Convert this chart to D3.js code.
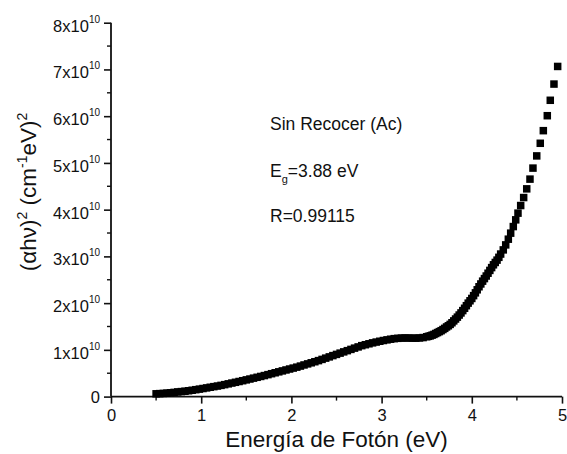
<!DOCTYPE html>
<html>
<head>
<meta charset="utf-8">
<script src="https://cdn.jsdelivr.net/npm/d3@7"></script>
<style>
  html, body { margin: 0; padding: 0; background: #fff; }
  svg { display: block; }
  text { font-family: "Liberation Sans", Arial, sans-serif; fill: #111; }
</style>
</head>
<body>
<svg id="chart" width="567" height="454"></svg>
<script>
// Photon energy (eV) and (alpha h nu)^2 in units of 1e10 (cm^-1 eV)^2
const energy = [
  0.50, 0.54, 0.58, 0.62, 0.66, 0.70, 0.74, 0.78, 0.82, 0.86,
  0.90, 0.94, 0.98, 1.02, 1.06, 1.10, 1.14, 1.18, 1.22, 1.26,
  1.30, 1.34, 1.38, 1.42, 1.46, 1.50, 1.54, 1.58, 1.62, 1.66,
  1.70, 1.74, 1.78, 1.82, 1.86, 1.90, 1.94, 1.98, 2.02, 2.06,
  2.10, 2.14, 2.18, 2.22, 2.26, 2.30, 2.34, 2.38, 2.42, 2.46,
  2.50, 2.54, 2.58, 2.62, 2.66, 2.70, 2.74, 2.78, 2.82, 2.86,
  2.90, 2.94, 2.98, 3.02, 3.06, 3.10, 3.14, 3.18, 3.22, 3.26,
  3.30, 3.34, 3.38, 3.42, 3.46, 3.50,
  3.52, 3.54, 3.56, 3.58, 3.60, 3.62, 3.64, 3.66, 3.68, 3.70,
  3.72, 3.74, 3.76, 3.78, 3.80, 3.82, 3.84, 3.86, 3.88, 3.90,
  3.92, 3.94, 3.96, 3.98, 4.00, 4.02, 4.04, 4.06, 4.08, 4.10,
  4.12, 4.14, 4.16, 4.18, 4.20, 4.22, 4.24, 4.26, 4.28, 4.30,
  4.32,
  4.349, 4.376, 4.405, 4.431, 4.460, 4.487, 4.512, 4.542, 4.575, 4.609,
  4.645, 4.678, 4.720, 4.759, 4.793, 4.837, 4.870, 4.911, 4.952
];
const alphaHv2 = [
  0.060, 0.064, 0.068, 0.075, 0.082, 0.090, 0.100, 0.107, 0.115, 0.125,
  0.136, 0.148, 0.160, 0.173, 0.186, 0.200, 0.213, 0.226, 0.240, 0.256,
  0.273, 0.290, 0.306, 0.323, 0.340, 0.358, 0.376, 0.395, 0.413, 0.431,
  0.450, 0.470, 0.490, 0.510, 0.530, 0.550, 0.570, 0.590, 0.610, 0.630,
  0.653, 0.677, 0.700, 0.723, 0.746, 0.770, 0.796, 0.823, 0.850, 0.877,
  0.903, 0.930, 0.957, 0.983, 1.010, 1.037, 1.063, 1.090, 1.110, 1.130,
  1.150, 1.167, 1.184, 1.200, 1.214, 1.228, 1.240, 1.247, 1.252, 1.255,
  1.253, 1.251, 1.250, 1.255, 1.263, 1.280,
  1.29, 1.30, 1.315, 1.33, 1.35, 1.37, 1.39, 1.41, 1.435, 1.46,
  1.49, 1.515, 1.545, 1.58, 1.62, 1.66, 1.70, 1.745, 1.79, 1.84,
  1.89, 1.945, 2.00, 2.05, 2.10, 2.16, 2.22, 2.285, 2.35, 2.41,
  2.47, 2.525, 2.58, 2.64, 2.70, 2.76, 2.82, 2.87, 2.92, 2.98,
  3.05,
  3.139, 3.246, 3.368, 3.497, 3.638, 3.782, 3.925, 4.088, 4.259, 4.445,
  4.653, 4.889, 5.15, 5.42, 5.69, 6.01, 6.34, 6.687, 7.064
];

const xTicks = [0, 1, 2, 3, 4, 5];
const xMinorTicks = [0.5, 1.5, 2.5, 3.5, 4.5];
const yTicks = [0, 1, 2, 3, 4, 5, 6, 7, 8];            // multiples of 1e10
const yMinorTicks = [0.5, 1.5, 2.5, 3.5, 4.5, 5.5, 6.5, 7.5];
const yExponent = "10";

const notes = ["Sin Recocer (Ac)", "=3.88 eV", "R=0.99115"];
const xTitle = "Energía de Fotón (eV)";

const svg = d3.select("#chart");
const x = d3.scaleLinear().domain([0, 5]).range([111, 562]);
const y = d3.scaleLinear().domain([0, 8]).range([396.6, 22.7]);

const axisColor = "#111";

// x axis: major ticks with labels, minor ticks without
const gx = svg.append("g").attr("transform", `translate(0,${y(0)})`);
gx.call(d3.axisBottom(x).tickValues(xTicks).tickSize(7).tickPadding(6)
  .tickFormat(d3.format("d")));
gx.call(g => g.selectAll(".tick line").attr("stroke", axisColor).attr("stroke-width", 1.6));
gx.call(g => g.select(".domain").attr("stroke", axisColor).attr("stroke-width", 1.8)
  .attr("d", `M${x(0)},0H${x(5)}`));
gx.selectAll(".tick text").attr("font-size", 16.5).attr("fill", axisColor)
  .attr("font-family", "Liberation Sans, Arial, sans-serif");
gx.selectAll(".minor").data(xMinorTicks).enter().append("line")
  .attr("class", "minor")
  .attr("x1", d => x(d)).attr("x2", d => x(d))
  .attr("y1", 0).attr("y2", 4)
  .attr("stroke", axisColor).attr("stroke-width", 1.4);

// y axis: labels drawn separately to carry the power-of-ten exponent
const gy = svg.append("g").attr("transform", `translate(${x(0)},0)`);
gy.call(d3.axisLeft(y).tickValues(yTicks).tickSize(7).tickFormat(""));
gy.call(g => g.selectAll(".tick line").attr("stroke", axisColor).attr("stroke-width", 1.6));
gy.call(g => g.select(".domain").attr("stroke", axisColor).attr("stroke-width", 1.8)
  .attr("d", `M0,${y(8)}V${y(0)}`));
gy.selectAll(".minor").data(yMinorTicks).enter().append("line")
  .attr("class", "minor")
  .attr("x1", 0).attr("x2", -4)
  .attr("y1", d => y(d)).attr("y2", d => y(d))
  .attr("stroke", axisColor).attr("stroke-width", 1.4);

const yLabels = svg.append("g").attr("font-size", 16.5).attr("text-anchor", "end");
yTicks.forEach(v => {
  const t = yLabels.append("text")
    .attr("x", x(0) - 11)
    .attr("y", y(v) + (v === 0 ? 6 : 9));
  if (v === 0) {
    t.text("0");
  } else {
    t.append("tspan").text(v + "x10");
    t.append("tspan").attr("dy", -9).attr("font-size", 10).text(yExponent);
  }
});

// data markers: filled squares
const size = 7.5;
const pts = energy.map((e, i) => [e, alphaHv2[i]]);
svg.append("g").selectAll("rect").data(pts).enter().append("rect")
  .attr("x", d => x(d[0]) - size / 2)
  .attr("y", d => y(d[1]) - size / 2)
  .attr("width", size).attr("height", size)
  .attr("fill", "#000");

// annotations
const ann = svg.append("g").attr("font-size", 17.5);
ann.append("text").attr("x", 270).attr("y", 130).text(notes[0]);
const eg = ann.append("text").attr("x", 270).attr("y", 177);
eg.append("tspan").text("E");
eg.append("tspan").attr("dy", 6).attr("font-size", 11).text("g");
eg.append("tspan").attr("dy", -6).text(notes[1]);
ann.append("text").attr("x", 270).attr("y", 221.5).text(notes[2]);

// axis titles
svg.append("text")
  .attr("x", (x(0) + x(5)) / 2).attr("y", 447)
  .attr("text-anchor", "middle").attr("font-size", 22.5)
  .text(xTitle);

const yt = svg.append("text")
  .attr("transform", `translate(36,192) rotate(-90)`)
  .attr("text-anchor", "middle").attr("font-size", 22.5);
yt.append("tspan").text("(αhν)");
yt.append("tspan").attr("dy", -9).attr("font-size", 14).text("2");
yt.append("tspan").attr("dy", 9).text(" (cm");
yt.append("tspan").attr("dy", -9).attr("font-size", 14).text("-1");
yt.append("tspan").attr("dy", 9).text("eV)");
yt.append("tspan").attr("dy", -9).attr("font-size", 14).text("2");
</script>
</body>
</html>
